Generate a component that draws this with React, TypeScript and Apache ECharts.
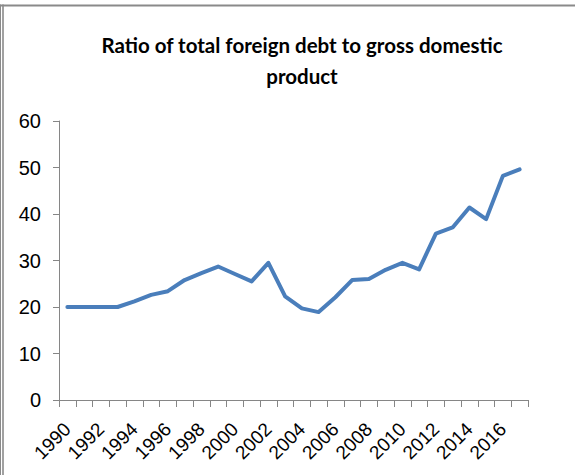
import React, { useEffect, useRef } from "react";
import * as echarts from "echarts";

const years: string[] = [
  "1990", "1991", "1992", "1993", "1994", "1995", "1996", "1997", "1998", "1999",
  "2000", "2001", "2002", "2003", "2004", "2005", "2006", "2007", "2008", "2009",
  "2010", "2011", "2012", "2013", "2014", "2015", "2016", "2017",
];
const debtRatio: number[] = [
  20.0, 20.0, 20.0, 20.0, 21.2, 22.6, 23.4, 25.8, 27.3, 28.7,
  27.1, 25.5, 29.5, 22.3, 19.7, 18.9, 22.1, 25.8, 26.0, 28.0,
  29.5, 28.1, 35.8, 37.1, 41.4, 38.9, 48.2, 49.6,
];
const titleText = "Ratio of total foreign debt to gross domestic\nproduct";

export default function App() {
  const ref = useRef<HTMLDivElement>(null);
  useEffect(() => {
    if (!ref.current) return;
    const chart = echarts.init(ref.current, null, { renderer: "svg" });
    const axisGray = "#868686";
    chart.setOption({
      animation: false,
      backgroundColor: "#ffffff",
      title: {
        text: titleText,
        left: 297,
        top: 24,
        textAlign: "center",
        textStyle: {
          fontFamily: "Lato",
          fontWeight: "bold",
          fontSize: 20.5,
          lineHeight: 31,
          color: "#000000",
        },
      },
      grid: { left: 59, right: 47, top: 121, bottom: 75 },
      xAxis: {
        type: "category",
        data: years,
        boundaryGap: true,
        axisLine: { lineStyle: { color: axisGray, width: 1 } },
        axisTick: { show: true, interval: 0, length: 7, lineStyle: { color: axisGray } },
        axisLabel: {
          interval: 1,
          rotate: 45,
          margin: 26,
          fontFamily: "Liberation Sans",
          fontSize: 19,
          color: "#000000",
        },
        splitLine: { show: false },
      },
      yAxis: {
        type: "value",
        min: 0,
        max: 60,
        interval: 10,
        axisLine: { show: true, lineStyle: { color: axisGray, width: 1 } },
        axisTick: { show: true, length: 6, lineStyle: { color: axisGray } },
        axisLabel: {
          margin: 18,
          fontFamily: "Liberation Sans",
          fontSize: 20,
          color: "#000000",
        },
        splitLine: { show: false },
      },
      series: [
        {
          type: "line",
          data: debtRatio,
          symbol: "none",
          lineStyle: { color: "#4A7EBB", width: 4, join: "round", cap: "round" },
          itemStyle: { color: "#4A7EBB" },
        },
      ],
      graphic: [
        { type: "line", shape: { x1: 0, y1: 5.5, x2: 575, y2: 5.5 }, style: { stroke: "#8a8a8a", lineWidth: 2 } },
        { type: "line", shape: { x1: 0.5, y1: 4.5, x2: 0.5, y2: 475 }, style: { stroke: "#8a8a8a", lineWidth: 1 } },
        { type: "line", shape: { x1: 3, y1: 4.5, x2: 3, y2: 475 }, style: { stroke: "#8a8a8a", lineWidth: 1.6 } },
      ],
    });
    return () => chart.dispose();
  }, []);
  return (
    <div
      ref={ref}
      style={{ position: "absolute", left: 0, top: 0, width: 575, height: 475 }}
    />
  );
}
